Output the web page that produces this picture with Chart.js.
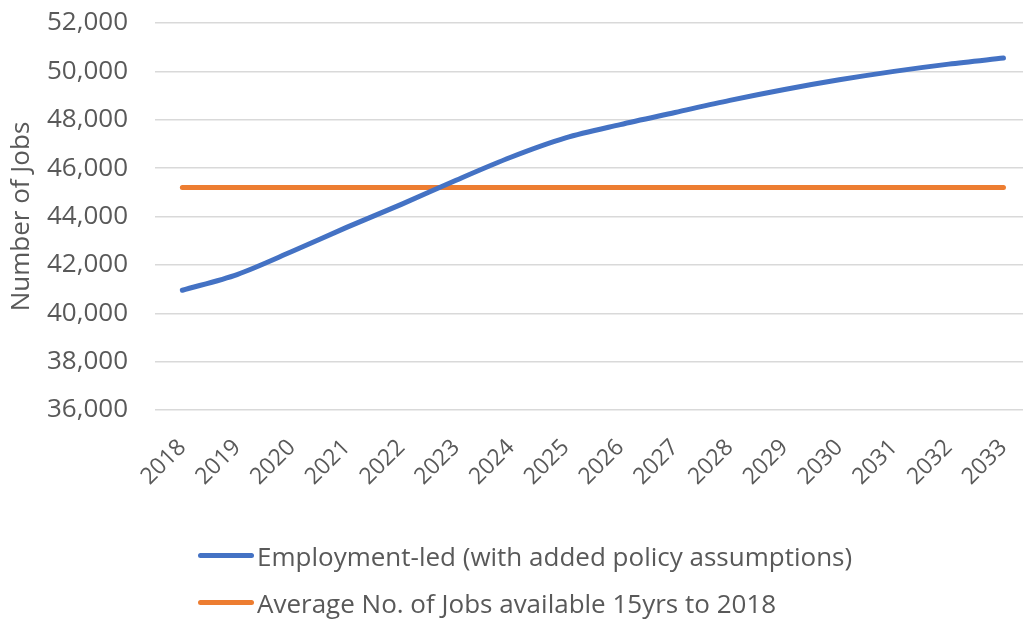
<!DOCTYPE html>
<html>
<head>
<meta charset="utf-8">
<script src="https://cdn.jsdelivr.net/npm/chart.js@4/dist/chart.umd.min.js"></script>
<style>
    html, body { margin: 0; padding: 0; background: #fff; overflow: hidden; }
    #wrap { position: relative; width: 1039px; height: 619px; }
    #legend { position: absolute; left: 198px; top: 532px; font-family: 'Open Sans', sans-serif; font-size: 26px; color: #595959; }
    .item { display: flex; align-items: center; height: 47px; white-space: nowrap; }
    .swatch { width: 56px; height: 5px; border-radius: 3px; margin-right: 3px; }
</style>
</head>
<body>
<div id="wrap">
    <canvas id="jobs-chart" width="1039" height="619"></canvas>
    <div id="legend"></div>
</div>
<script>
// Data
const years = ['2018', '2019', '2020', '2021', '2022', '2023', '2024', '2025',
    '2026', '2027', '2028', '2029', '2030', '2031', '2032', '2033'];
const employmentLed = [40950, 41600, 42550, 43550, 44500, 45500, 46450, 47250,
    47800, 48300, 48800, 49250, 49650, 50000, 50300, 50550];
const averageJobs = [45200, 45200, 45200, 45200, 45200, 45200, 45200, 45200,
    45200, 45200, 45200, 45200, 45200, 45200, 45200, 45200];
const seriesNames = ['Employment-led (with added policy assumptions)', 'Average No. of Jobs available 15yrs to 2018'];
const seriesColors = ['#4472C4', '#ED7D31'];

const font = { family: "'Open Sans', sans-serif", size: 26 };

const chart = new Chart(document.getElementById('jobs-chart'), {
    type: 'line',
    data: {
        labels: years,
        datasets: [
            {
                label: seriesNames[0],
                data: employmentLed,
                borderColor: seriesColors[0],
                borderWidth: 5,
                borderCapStyle: 'round',
                pointRadius: 0,
                tension: 0.3
            },
            {
                label: seriesNames[1],
                data: averageJobs,
                borderColor: seriesColors[1],
                borderWidth: 5,
                borderCapStyle: 'round',
                pointRadius: 0
            }
        ]
    },
    options: {
        responsive: false,
        animation: false,
        layout: { padding: { top: 23, right: 0, left: 0, bottom: 129 } },
        scales: {
            x: {
                offset: true,
                grid: { display: false },
                border: { display: false },
                ticks: {
                    font: { family: font.family, size: 23 },
                    color: '#595959',
                    minRotation: 45,
                    maxRotation: 45,
                    autoSkip: false,
                    padding: 16
                },
                afterFit: scale => { scale.height = 80; }
            },
            y: {
                min: 36000,
                max: 52000,
                grid: { color: '#d9d9d9', lineWidth: 1.5, tickLength: 27, tickColor: 'rgba(0,0,0,0)' },
                border: { display: false },
                ticks: {
                    stepSize: 2000,
                    font: font,
                    color: '#595959',
                    padding: 0,
                    callback: v => v.toLocaleString('en-US')
                },
                title: {
                    display: true,
                    text: 'Number of Jobs',
                    font: font,
                    color: '#595959',
                    padding: { top: 6, bottom: 0 }
                },
                afterFit: scale => { scale.width = 155; }
            }
        },
        plugins: {
            legend: { display: false },
            tooltip: { enabled: false }
        }
    }
});

// Legend built from the chart's datasets
document.getElementById('legend').innerHTML = chart.data.datasets.map(ds => `
    <div class="item"><span class="swatch" style="background:${ds.borderColor}"></span>${ds.label}</div>
`).join('');
</script>
</body>
</html>
